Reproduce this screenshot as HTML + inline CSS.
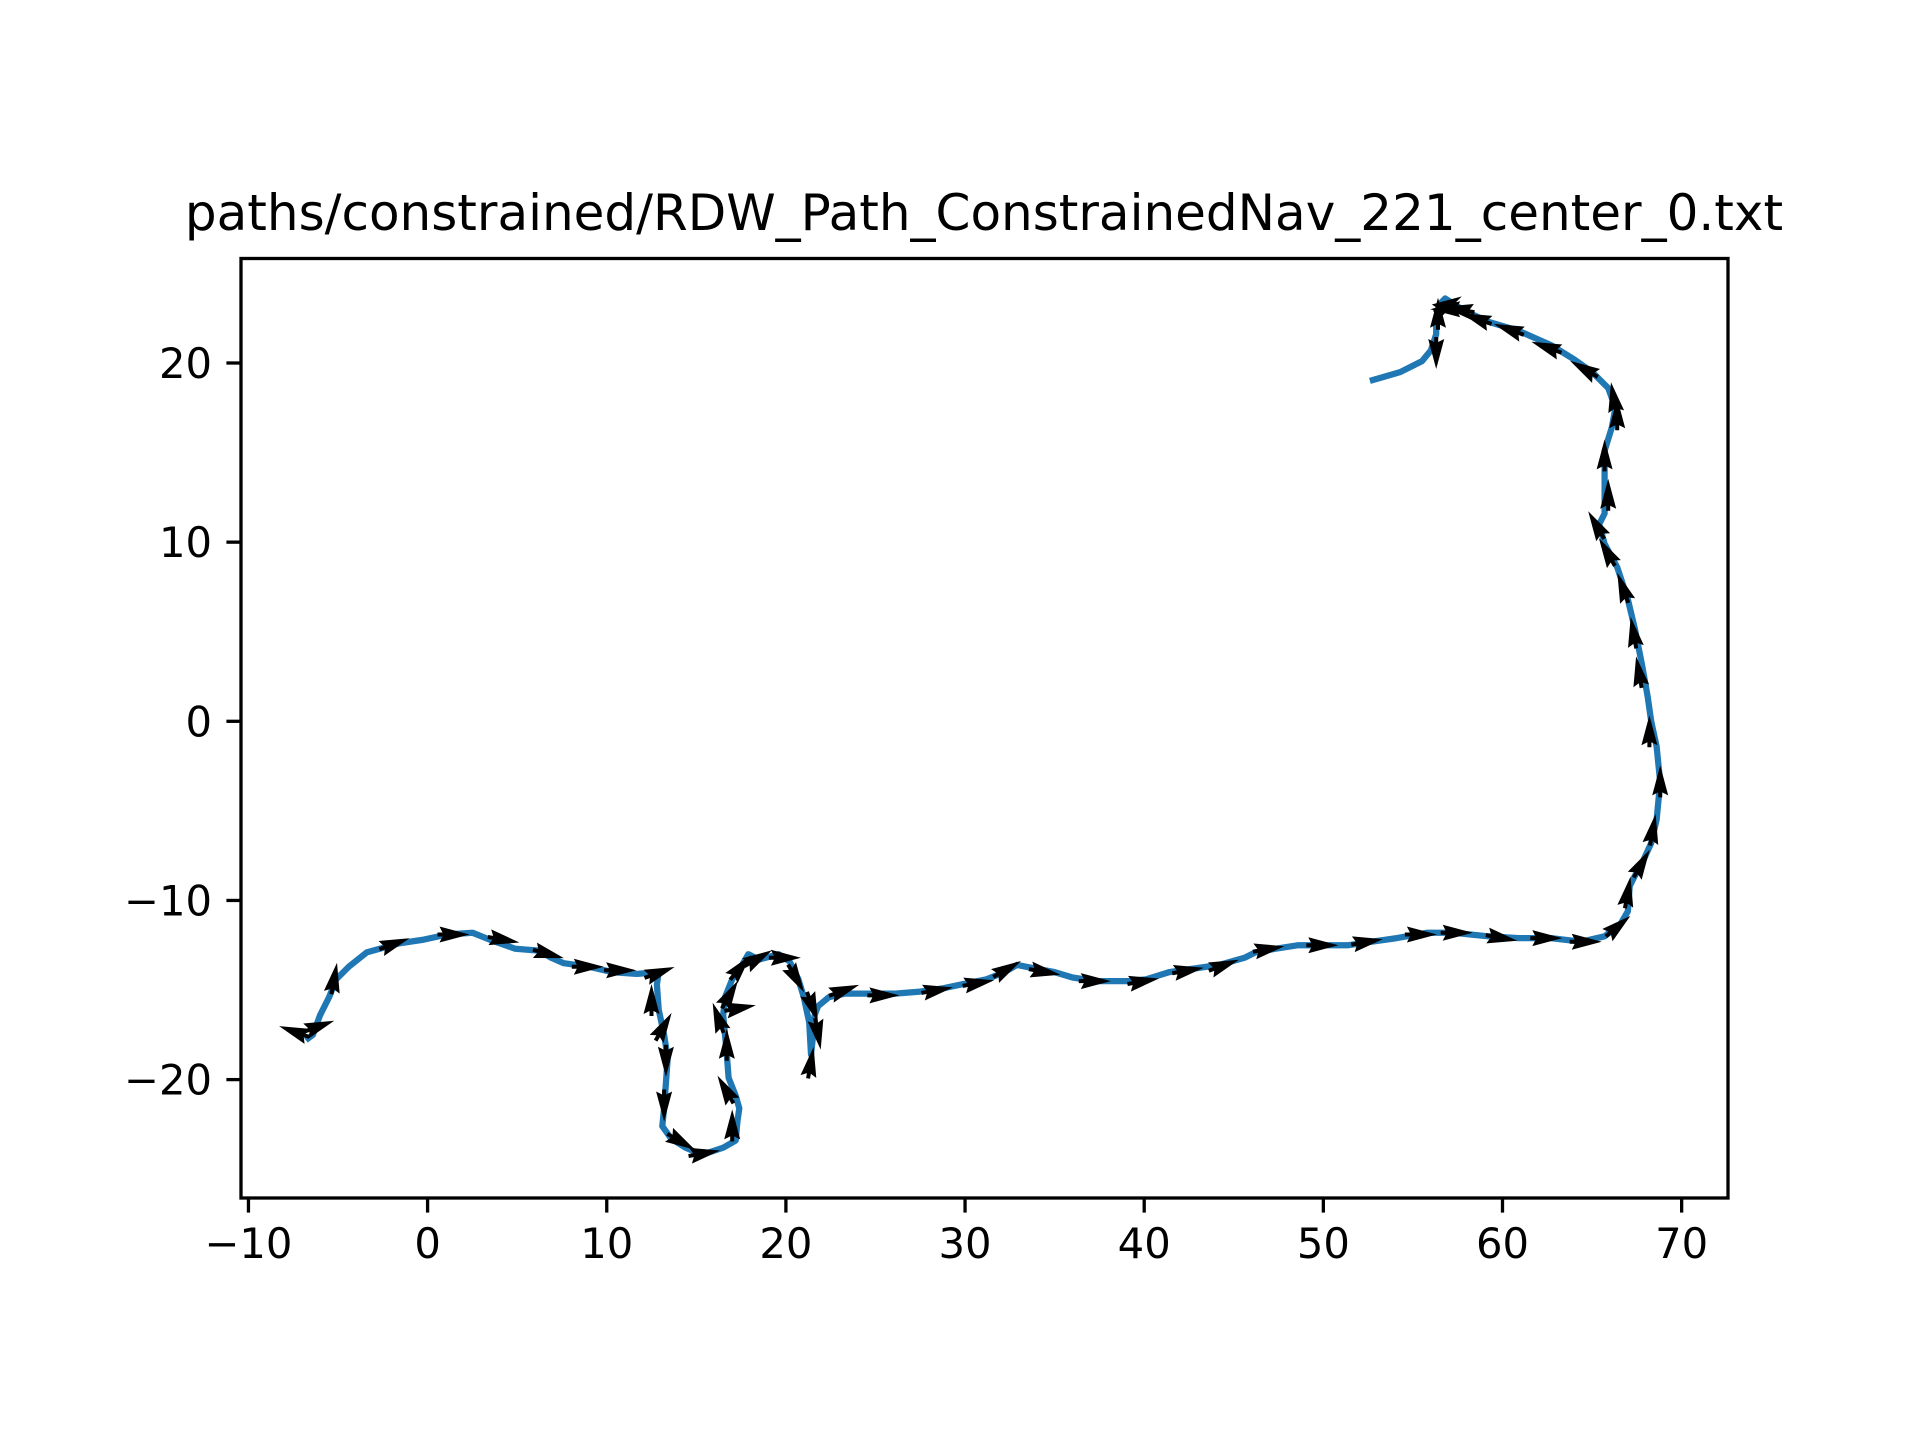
<!DOCTYPE html>
<html><head><meta charset="utf-8"><style>
html,body{margin:0;padding:0;background:#fff;}
svg{display:block;font-family:"DejaVu Sans","Liberation Sans",sans-serif;}
</style></head><body>
<svg id="chart" width="1920" height="1440" viewBox="0 0 1920 1440" xmlns="http://www.w3.org/2000/svg">
<rect width="1920" height="1440" fill="#fff"/>
<text x="984" y="230" font-size="50" text-anchor="middle">paths/constrained/RDW_Path_ConstrainedNav_221_center_0.txt</text>
<g id="marks"></g>
<rect x="241" y="258.5" width="1487" height="939.5" fill="none" stroke="#000" stroke-width="3.3"/>
<g id="axes"></g>
</svg>
<script>
const pathX = [52.6,54.3,55.5,56.0,56.3,56.3,56.5,56.8,57.9,59.2,60.9,62.7,64.0,65.0,65.9,66.3,66.1,65.7,65.7,65.7,65.4,65.7,66.4,67.0,67.4,67.8,68.1,68.3,68.6,68.8,68.6,68.3,67.8,67.4,67.1,67.0,66.6,65.7,64.4,62.7,60.9,59.2,58.2,57.2,55.8,54.1,52.7,51.4,50.0,48.6,47.3,46.2,45.6,44.2,42.8,41.4,40.1,39.1,37.3,36.0,35.0,33.9,32.9,32.2,31.2,30.2,28.8,27.4,26.1,24.7,23.3,22.4,21.8,21.6,21.5,21.4,21.3,21.0,20.7,20.2,19.6,18.5,17.9,17.5,17.0,16.6,16.5,16.6,16.7,16.8,17.2,17.4,17.3,17.2,16.5,15.3,14.4,13.6,13.1,13.2,13.3,13.4,13.2,12.9,12.8,12.9,11.7,10.3,9.0,7.6,6.9,6.2,4.9,3.5,2.5,1.1,-0.3,-1.6,-3.4,-4.4,-5.1,-5.5,-6.0,-6.4,-6.8];
const pathY = [19.0,19.5,20.1,20.7,21.6,22.5,23.3,23.6,22.9,22.3,21.8,21.0,20.2,19.5,18.6,17.5,16.4,15.1,13.4,11.6,11.0,9.9,8.6,6.8,5.1,3.1,1.4,0,-1.4,-3.4,-5.5,-6.8,-7.9,-8.6,-9.2,-10.6,-11.3,-12.0,-12.3,-12.1,-12.1,-12.0,-11.9,-11.8,-11.8,-12.1,-12.3,-12.5,-12.5,-12.5,-12.7,-12.9,-13.2,-13.6,-13.8,-14.0,-14.4,-14.5,-14.5,-14.3,-14.0,-13.8,-13.6,-14.0,-14.4,-14.6,-14.9,-15.1,-15.2,-15.2,-15.2,-15.4,-15.9,-16.4,-17.7,-18.6,-16.8,-15.4,-14.4,-13.4,-13.0,-13.3,-13.0,-13.7,-14.4,-15.4,-16.4,-17.5,-18.6,-19.9,-20.9,-21.6,-22.3,-23.4,-23.8,-24.2,-23.8,-23.3,-22.6,-21.6,-20.2,-18.8,-17.5,-16.1,-14.7,-14.0,-14.1,-14.0,-13.7,-13.5,-13.2,-12.8,-12.7,-12.2,-11.8,-11.9,-12.2,-12.4,-12.9,-13.7,-14.4,-15.4,-16.4,-17.5,-17.8];
const arrowX = [-7.5,-6,-5.2,-1.8,1.5,4.3,6.8,9,10.8,13,12.5,13.2,13.3,13.2,14.2,15.5,17,16.6,16.7,16.2,17.5,16.9,17.5,18.5,20,20.6,21.5,21.8,21.4,23.3,25.5,28.5,30.8,32.4,34.5,37.3,40,42.5,44.5,47,50,52.5,55.5,57.5,60,62.5,64.7,66.5,67,67.8,68.4,68.8,68.2,67.6,67.3,66.7,65.8,65.2,65.9,65.7,66.4,66.2,64.5,62.4,60.3,58.5,57.5,56.8,56.4,56.3,57];
const arrowY = [-17.3,-17,-14.3,-12.4,-11.9,-12.2,-13,-13.7,-13.9,-14,-15.5,-17,-19,-21.5,-23.5,-24.1,-22.5,-20.5,-18,-16.5,-16,-15.2,-13.7,-13.2,-13.2,-14.4,-16,-17.5,-19,-15,-15.3,-15,-14.6,-13.8,-14,-14.5,-14.5,-13.9,-13.6,-12.7,-12.5,-12.3,-11.9,-11.8,-12.1,-12.1,-12.3,-11.4,-9.5,-7.9,-6,-3.3,-0.5,2.8,5,7.5,9.5,11,12.7,14.9,17.2,18.1,19.7,20.9,21.9,22.5,23,23,22.8,20.5,23.3];
const arrowAngle = [160,20,80,20,0,-10,-15,0,0,20,90,60,-90,-90,-30,10,90,120,90,110,10,60,50,30,0,-60,-70,-80,80,20,0,10,10,30,-10,0,10,10,20,10,0,10,0,0,-10,0,0,40,80,60,80,90,90,100,100,110,120,120,90,90,90,100,150,160,160,160,170,180,90,-90,30];
const xTicks = [-10,0,10,20,30,40,50,60,70];
const yTicks = [-20,-10,0,10,20];

const NS = "http://www.w3.org/2000/svg";
const sx = v => 427.6 + v * 17.915;
const sy = v => 721.3 - v * 17.915;
const marks = document.getElementById('marks');
const axes = document.getElementById('axes');

let d = '';
for (let i = 0; i < pathX.length; i++) d += (i ? 'L' : 'M') + sx(pathX[i]).toFixed(1) + ',' + sy(pathY[i]).toFixed(1);
const line = document.createElementNS(NS, 'path');
line.setAttribute('d', d);
line.setAttribute('fill', 'none');
line.setAttribute('stroke', '#1f77b4');
line.setAttribute('stroke-width', '6.25');
line.setAttribute('stroke-linejoin', 'round');


marks.appendChild(line);

for (let i = 0; i < arrowX.length; i++) {
  const a = document.createElementNS(NS, 'polygon');
  a.setAttribute('points', '-17,-2 -12,-2 -15,-8 15,0 -15,8 -12,2 -17,2');
  a.setAttribute('fill', '#000');
  a.setAttribute('transform', 'translate(' + sx(arrowX[i]).toFixed(1) + ',' + sy(arrowY[i]).toFixed(1) + ') rotate(' + (-arrowAngle[i]) + ')');
  
  
  marks.appendChild(a);
}

xTicks.forEach(v => {
  const x = sx(v);
  const t = document.createElementNS(NS, 'line');
  t.setAttribute('x1', x); t.setAttribute('x2', x);
  t.setAttribute('y1', 1198); t.setAttribute('y2', 1212.6);
  t.setAttribute('stroke', '#000'); t.setAttribute('stroke-width', '3.3');
  
  
  axes.appendChild(t);
  const l = document.createElementNS(NS, 'text');
  l.setAttribute('x', x); l.setAttribute('y', 1258);
  l.setAttribute('font-size', '41.7'); l.setAttribute('text-anchor', 'middle');
  l.textContent = v < 0 ? '\u2212' + Math.abs(v) : String(v);
  
  
  axes.appendChild(l);
});
yTicks.forEach(v => {
  const y = sy(v);
  const t = document.createElementNS(NS, 'line');
  t.setAttribute('x1', 226.4); t.setAttribute('x2', 241);
  t.setAttribute('y1', y); t.setAttribute('y2', y);
  t.setAttribute('stroke', '#000'); t.setAttribute('stroke-width', '3.3');
  
  
  axes.appendChild(t);
  const l = document.createElementNS(NS, 'text');
  l.setAttribute('x', 212); l.setAttribute('y', y + 15);
  l.setAttribute('font-size', '41.7'); l.setAttribute('text-anchor', 'end');
  l.textContent = v < 0 ? '\u2212' + Math.abs(v) : String(v);
  
  
  axes.appendChild(l);
});
</script>
</body></html>
